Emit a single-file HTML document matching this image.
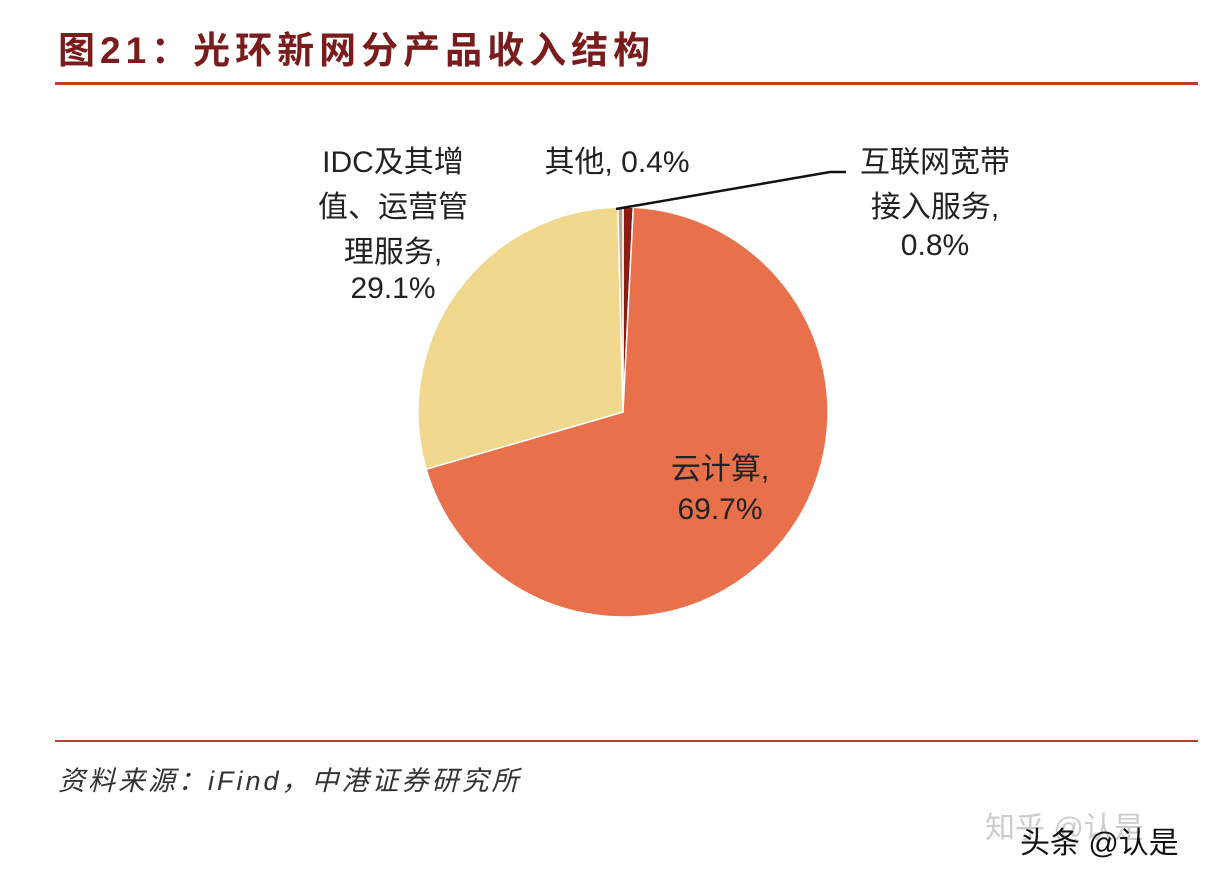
<!DOCTYPE html>
<html><head><meta charset="utf-8"><style>
body{margin:0;background:#fff;width:1206px;height:880px;overflow:hidden;font-family:"Liberation Sans","Noto Sans CJK SC",sans-serif;}
</style></head><body>
<svg width="1206" height="880">
<text x="58" y="63" font-size="37" font-weight="bold" letter-spacing="5" fill="#7a1c1c" font-family="Liberation Sans,Noto Sans CJK SC,sans-serif">图21：光环新网分产品收入结构</text>
<rect x="55" y="82" width="1143" height="3" fill="#b8402c"/>
<g id="pie"></g>
<polyline points="616,209 830,172 846,172" fill="none" stroke="#111" stroke-width="2.5"/>
<g font-size="30" fill="#222" text-anchor="middle" font-family="Liberation Sans,Noto Sans CJK SC,sans-serif">
<g><text x="393" y="172">IDC及其增</text><text x="393" y="217">值、运营管</text><text x="393" y="262">理服务,</text><text x="393" y="298">29.1%</text></g>
<text x="617" y="172">其他, 0.4%</text>
<g><text x="935" y="172">互联网宽带</text><text x="935" y="217">接入服务,</text><text x="935" y="255">0.8%</text></g>
<g><text x="720" y="479">云计算,</text><text x="720" y="519">69.7%</text></g>
</g>
<rect x="55" y="740" width="1143" height="2" fill="#b8402c"/>
<text x="58" y="790" font-size="27" font-style="italic" letter-spacing="3" fill="#333">资料来源：iFind，中港证券研究所</text>
<text x="985" y="838" font-size="30" fill="#ccc">知乎 @认是</text>
<text x="1020" y="853" font-size="30" fill="#111">头条 @认是</text>
</svg>
<script>
const categories=["互联网宽带接入服务","云计算","IDC及其增值、运营管理服务","其他"];
const values=[0.8,69.7,29.1,0.4];
const colors=["#8b1a10","#e8704a","#f0d98f","#b8a590"];
const cx=623,cy=412,r=205;
const g=document.getElementById('pie');
const total=values.reduce((a,b)=>a+b,0);
let a0=0;
function pt(a){return [cx+r*Math.sin(a),cy-r*Math.cos(a)];}
values.forEach((v,i)=>{
  const a1=a0+v/total*2*Math.PI;
  const p0=pt(a0),p1=pt(a1);
  const large=(a1-a0)>Math.PI?1:0;
  const p=document.createElementNS('http://www.w3.org/2000/svg','path');
  p.setAttribute('d',`M${cx},${cy}L${p0[0]},${p0[1]}A${r},${r} 0 ${large} 1 ${p1[0]},${p1[1]}Z`);
  p.setAttribute('fill',colors[i]);
  p.setAttribute('stroke','#fff');
  p.setAttribute('stroke-width','1.5');
  
  
  g.appendChild(p);
  a0=a1;
});
</script>
</body></html>
